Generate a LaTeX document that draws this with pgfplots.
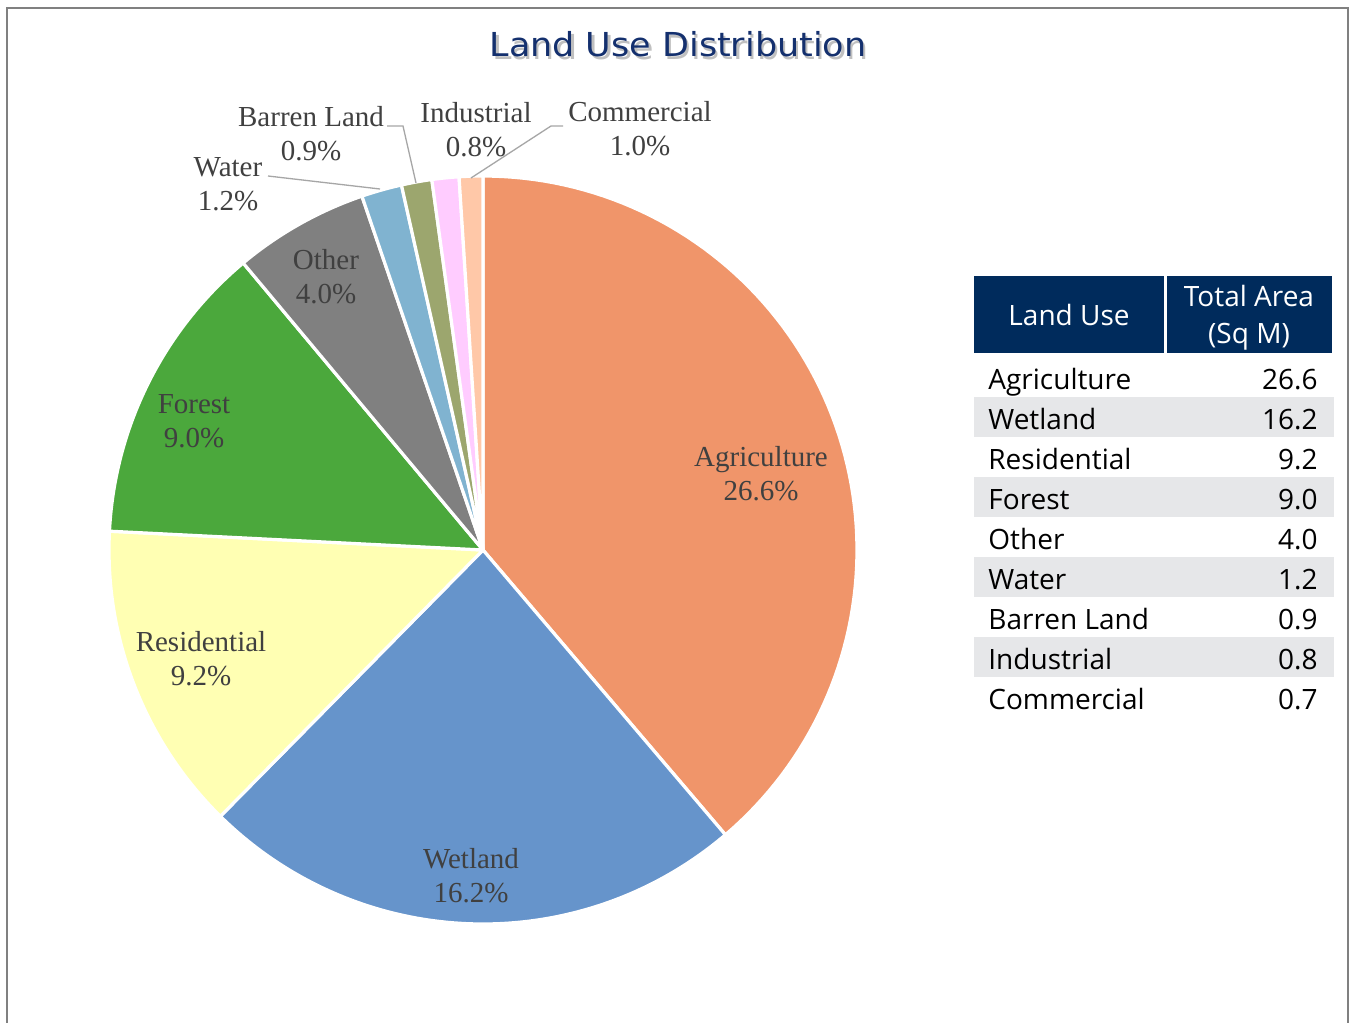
\documentclass[border=0pt]{standalone}
\usepackage{fontspec}
\usepackage{pgfplots}
\pgfplotsset{compat=1.18}
\usepackage{pgfplotstable}
\usepackage{graphicx}
\setmainfont{Liberation Serif}
\newfontfamily\tablefont{Open Sans}
\newfontfamily\titlefont{DejaVu Sans}

\definecolor{cAgri}{HTML}{F0956A}
\definecolor{cWet}{HTML}{6694CB}
\definecolor{cRes}{HTML}{FFFFB3}
\definecolor{cFor}{HTML}{4BA83C}
\definecolor{cOth}{HTML}{808080}
\definecolor{cWat}{HTML}{80B3D0}
\definecolor{cBar}{HTML}{9CA66E}
\definecolor{cInd}{HTML}{FFCCFF}
\definecolor{cCom}{HTML}{FFC8A8}
\definecolor{labtext}{HTML}{404040}
\definecolor{leader}{HTML}{A6A6A6}
\definecolor{hdr}{HTML}{002B5C}
\definecolor{band}{HTML}{E6E7E9}
\definecolor{titleblue}{HTML}{14306E}
\definecolor{framegray}{HTML}{808080}

\pgfplotstableread{
name value col
Agriculture 26.6 cAgri
Wetland 16.2 cWet
Residential 9.2 cRes
Forest 9.0 cFor
Other 4.0 cOth
Water 1.2 cWat
Barren 0.9 cBar
Industrial 0.8 cInd
Commercial 0.7 cCom
}\landuse

\begin{document}
\begin{tikzpicture}
\begin{scope}[x=0.5pt,y=-0.5pt]
\useasboundingbox (0,0) rectangle (1351,1023);
\fill[white] (0,0) rectangle (1351,1023);
\draw[framegray, line width=1pt] (7,1023) -- (7,8) -- (1348,8) -- (1348,1023);
% title
\node[text=gray!70, opacity=0.7, inner sep=0] at (680.5,47.5) {\titlefont\fontsize{16.5}{20}\selectfont\scalebox{1.06}[1]{Land Use Distribution}};
\node[text=titleblue, inner sep=0] at (678,44) {\titlefont\fontsize{16.5}{20}\selectfont\scalebox{1.06}[1]{Land Use Distribution}};
\end{scope}

\begin{axis}[at={(241.5pt,-275pt)}, anchor=center, width=374pt, height=374pt,
  scale only axis, xmin=-1, xmax=1, ymin=-1, ymax=1, hide axis, clip=false]
\pgfplotstablegetrowsof{\landuse}
\pgfmathtruncatemacro\nrows{\pgfplotsretval-1}
\def\total{0}
\pgfplotsforeachungrouped \i in {0,...,\nrows}{%
  \pgfplotstablegetelem{\i}{value}\of\landuse
  \pgfmathsetmacro\total{\total+\pgfplotsretval}%
}
\def\cum{0}
\pgfplotsforeachungrouped \i in {0,...,\nrows}{%
  \pgfplotstablegetelem{\i}{value}\of\landuse \let\sliceval\pgfplotsretval
  \pgfplotstablegetelem{\i}{col}\of\landuse \let\slicecol\pgfplotsretval
  \pgfmathsetmacro\angA{90-(\cum/\total)*360}%
  \pgfmathsetmacro\cum{\cum+\sliceval}%
  \pgfmathsetmacro\angB{90-(\cum/\total)*360}%
  \edef\temp{\noexpand\addplot[fill=\slicecol, draw=white, line width=1.6pt, line join=round, domain=\angB:\angA, samples=90, variable=\noexpand\t] ({cos(\noexpand\t)},{sin(\noexpand\t)}) -- (axis cs:0,0) -- cycle;}%
  \temp
}
\end{axis}

\begin{scope}[x=0.5pt,y=-0.5pt]
% slice labels
\tikzset{lab/.style={text=labtext, align=center, inner sep=0, font=\fontsize{14.5}{17}\selectfont}}
\node[lab] at (761,474) {Agriculture\\26.6\%};
\node[lab] at (471,876) {Wetland\\16.2\%};
\node[lab] at (201,659) {Residential\\9.2\%};
\node[lab] at (194,421) {Forest\\9.0\%};
\node[lab] at (326,277) {Other\\4.0\%};
\node[lab] at (228,184) {Water\\1.2\%};
\node[lab] at (311,134) {Barren Land\\0.9\%};
\node[lab] at (476,130) {Industrial\\0.8\%};
\node[lab] at (640,129) {Commercial\\1.0\%};
% leader lines
\draw[leader, line width=0.65pt] (268,176) -- (380,189);
\draw[leader, line width=0.65pt] (387,126) -- (403,126) -- (416,183);
\draw[leader, line width=0.65pt] (563,126) -- (551,126) -- (471,178);
% table
\fill[hdr] (974,276) rectangle (1164,353);
\fill[hdr] (1167,276) rectangle (1332,353);
\tikzset{tf/.style={inner sep=0, font=\tablefont\fontsize{14}{17}\selectfont}}
\node[tf, text=white, anchor=base] at (1069,325) {Land Use};
\node[tf, text=white, anchor=base] at (1249,306) {Total Area};
\node[tf, text=white, anchor=base] at (1249,343) {(Sq M)};
\foreach \r in {1,3,5,7} {\fill[band] (974,{357+40*\r}) rectangle (1334,{397+40*\r});}
\foreach \n/\v [count=\k from 0] in {Agriculture/26.6, Wetland/16.2, Residential/9.2, Forest/9.0, Other/4.0, Water/1.2, Barren Land/0.9, Industrial/0.8, Commercial/0.7} {
  \node[tf, anchor=base west] at (988,{389+40*\k}) {\n};
  \node[tf, anchor=base east] at (1318,{389+40*\k}) {\v};
}
\end{scope}
\end{tikzpicture}
\end{document}
